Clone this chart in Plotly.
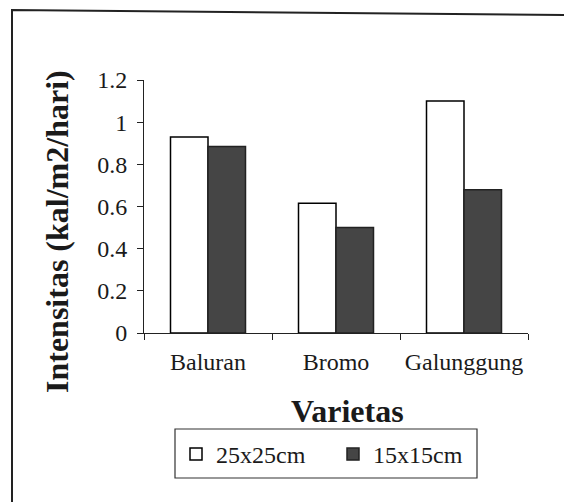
import plotly.graph_objects as go

categories = ["Baluran", "Bromo", "Galunggung"]
series_names = ["25x25cm", "15x15cm"]
values_25 = [0.93, 0.615, 1.10]
values_15 = [0.885, 0.50, 0.68]
y_ticks = [0, 0.2, 0.4, 0.6, 0.8, 1, 1.2]
y_tick_labels = ["0", "0.2", "0.4", "0.6", "0.8", "1", "1.2"]
x_title = "Varietas"
y_title = "Intensitas (kal/m2/hari)"

W, H = 564, 502
L, R, T, B = 144, 36, 80, 169
pw, ph = W - L - R, H - T - B

def px(x):
    return (x - L) / pw

def py(y):
    return (H - B - y) / ph

font = "Liberation Serif, Times New Roman, serif"

fig = go.Figure()
fig.add_trace(go.Bar(x=categories, y=values_25, name=series_names[0],
                     marker=dict(color="white", line=dict(color="black", width=1.5))))
fig.add_trace(go.Bar(x=categories, y=values_15, name=series_names[1],
                     marker=dict(color="#454545", line=dict(color="#222", width=1.5))))

fig.update_layout(
    width=W, height=H,
    margin=dict(l=L, r=R, t=T, b=B, autoexpand=False),
    paper_bgcolor="white", plot_bgcolor="white",
    barmode="group", bargap=0.414, bargroupgap=0,
    font=dict(family=font, size=24, color="#1a1a1a"),
    showlegend=True,
    legend=dict(orientation="h", x=px(176), xanchor="left", y=py(432), yanchor="top",
                borderwidth=0, bgcolor="rgba(0,0,0,0)", font=dict(size=24, family=font),
                entrywidth=112, entrywidthmode="pixels", traceorder="normal"),
    xaxis=dict(showline=True, linecolor="#222", linewidth=1, ticks="outside",
               tickson="boundaries", ticklen=6, tickcolor="#222", showgrid=False,
               tickfont=dict(size=24, family=font), ticklabelstandoff=7),
    yaxis=dict(range=[0, 1.2], tickvals=y_ticks, ticktext=y_tick_labels,
               showline=True, linecolor="#222", linewidth=1, ticks="outside",
               ticklen=6, tickcolor="#222", showgrid=False, zeroline=False,
               tickfont=dict(size=24, family=font), ticklabelstandoff=5),
    annotations=[
        dict(text=f"<b>{y_title}</b>", xref="paper", yref="paper",
             x=px(57), y=py(232), xanchor="center", yanchor="middle",
             textangle=-90, showarrow=False, font=dict(size=32, family=font)),
        dict(text=f"<b>{x_title}</b>", xref="paper", yref="paper",
             x=px(347), y=py(411), xanchor="center", yanchor="middle",
             showarrow=False, font=dict(size=32, family=font)),
    ],
    shapes=[
        dict(type="path", xref="paper", yref="paper",
             path=f"M {px(12)},{py(520)} L {px(12)},{py(10)} L {px(570)},{py(15)}",
             line=dict(color="#222", width=2)),
        dict(type="rect", xref="paper", yref="paper",
             x0=px(175), x1=px(477), y0=py(429), y1=py(478),
             line=dict(color="#333", width=1.2)),
    ],
)

fig.write_html("out.html")
